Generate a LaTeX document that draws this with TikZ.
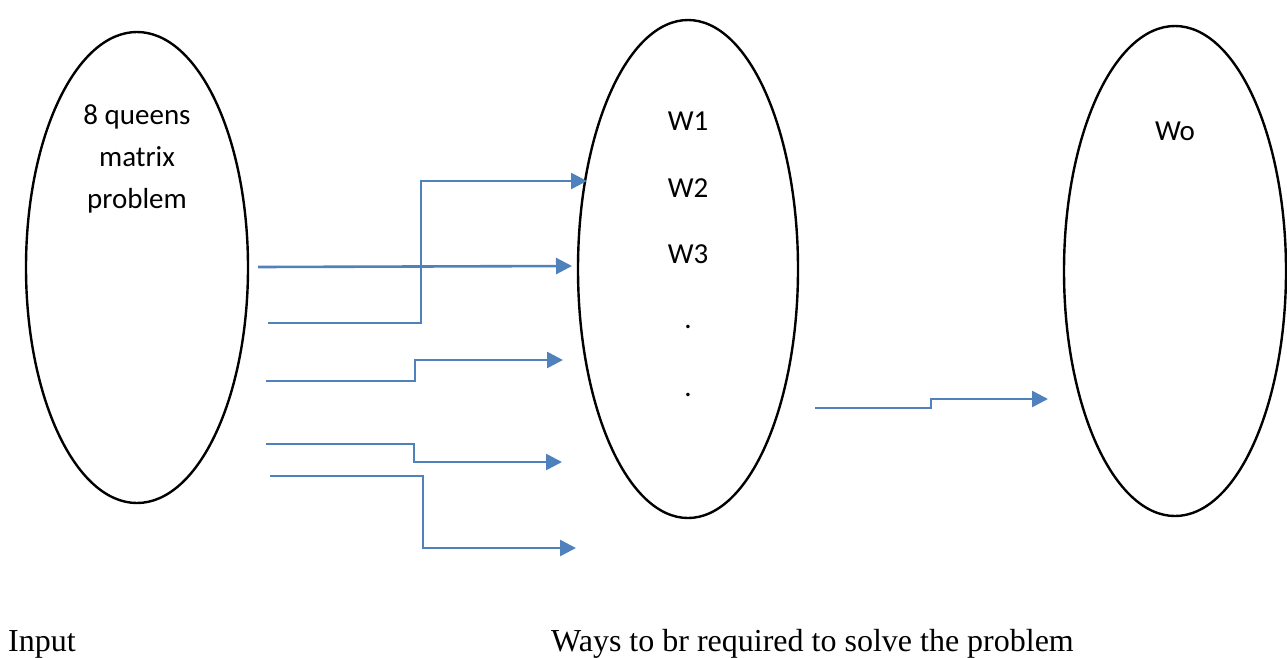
\documentclass[tikz,border=0pt]{standalone}
\usepackage{fontspec}
\setmainfont{Carlito}
\newfontfamily\timesfont{Liberation Serif}
\usetikzlibrary{shapes.geometric,arrows.meta}
\definecolor{arrowblue}{HTML}{4F81BD}
\begin{document}
\begin{tikzpicture}[x=1pt,y=-1pt,
  oval/.style={draw=black,line width=2.4pt,ellipse,inner sep=0pt},
  flow/.style={draw=arrowblue,line width=2.6pt},
  flowarrow/.style={flow,-{Triangle[length=16pt,width=16pt]}},
  lbl/.style={font=\fontsize{29}{42}\selectfont,align=center,inner sep=0pt},
  captext/.style={font=\timesfont\fontsize{32}{36}\selectfont,inner sep=0pt,anchor=base west}]
\useasboundingbox (0,0) rectangle (1287,657);
% ellipses
\node[oval,minimum width=222pt,minimum height=471pt] (inp) at (137,267.5) {};
\node[oval,minimum width=220pt,minimum height=498pt] (ways) at (688,269) {};
\node[oval,minimum width=222pt,minimum height=490pt] (out) at (1175,271) {};
% labels
\node[lbl] (prob) at (137,159) {8 queens\\matrix\\problem};
\node[lbl] (w1) at (688,121) {W1};
\node[lbl] (w2) at (688,188) {W2};
\node[lbl] (w3) at (688,254) {W3};
\node[lbl] (d1) at (688,327) {.};
\node[lbl] (d2) at (688,395) {.};
\node[lbl] (wo) at (1175,131) {Wo};
\node[captext] (input) at (8,651) {Input};
\node[captext] (waystxt) at (551,651) {Ways to br required to solve the problem};
% connector end points
\coordinate (a1s) at (258,267);
\coordinate (a1e) at (572,266);
\coordinate (a2s) at (268,323);
\coordinate (a2m1) at (421,323);
\coordinate (a2m2) at (421,181);
\coordinate (a2e) at (587,181);
\coordinate (a3s) at (266,381);
\coordinate (a3m1) at (415,381);
\coordinate (a3m2) at (415,360);
\coordinate (a3e) at (563,360);
\coordinate (a4s) at (266,444);
\coordinate (a4m1) at (414,444);
\coordinate (a4m2) at (414,462);
\coordinate (a4e) at (562,462);
\coordinate (a5s) at (270,476);
\coordinate (a5m1) at (423,476);
\coordinate (a5m2) at (423,548);
\coordinate (a5e) at (576,548);
\coordinate (a6s) at (815,408);
\coordinate (a6m1) at (931,408);
\coordinate (a6m2) at (931,399);
\coordinate (a6e) at (1048,399);
% connectors
\draw[flowarrow] (a1s) -- (a1e);
\draw[flowarrow] (a2s) -- (a2m1) -- (a2m2) -- (a2e);
\draw[flowarrow] (a3s) -- (a3m1) -- (a3m2) -- (a3e);
\draw[flowarrow] (a4s) -- (a4m1) -- (a4m2) -- (a4e);
\draw[flowarrow] (a5s) -- (a5m1) -- (a5m2) -- (a5e);
\draw[flowarrow] (a6s) -- (a6m1) -- (a6m2) -- (a6e);
\end{tikzpicture}
\end{document}
